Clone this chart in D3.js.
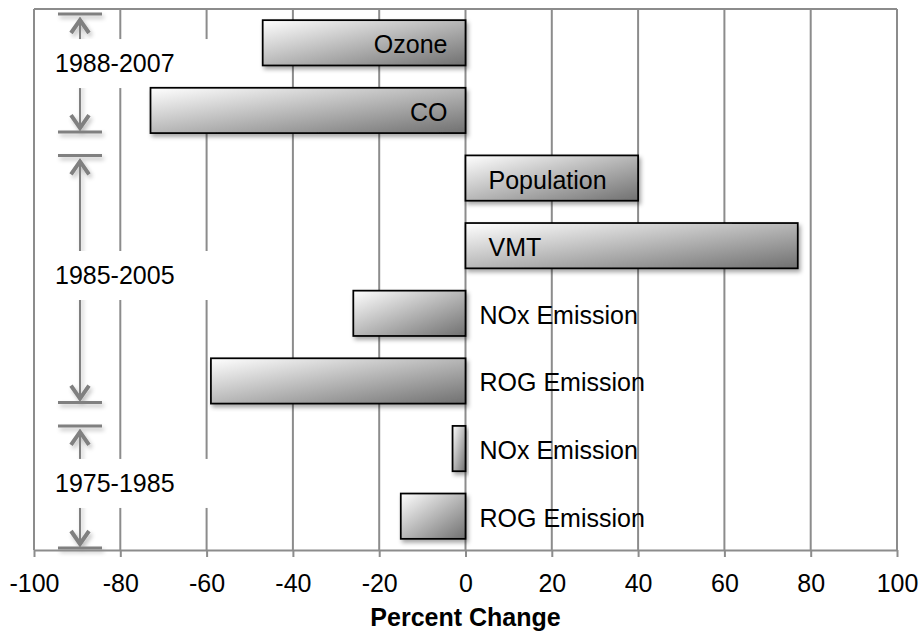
<!DOCTYPE html>
<html>
<head>
<meta charset="utf-8">
<script src="https://cdn.jsdelivr.net/npm/d3@7"></script>
<style>
  body { margin: 0; background: #fff; }
  text { font-family: Arial, "Liberation Sans", sans-serif; }
</style>
</head>
<body>
<svg id="chart"></svg>
<script>
// bar names, values and which period each bar belongs to
var categories = ["Ozone", "CO", "Population", "VMT", "NOx Emission", "ROG Emission", "NOx Emission", "ROG Emission"];
var values = [-47, -73, 40, 77, -26, -59, -3, -15];
var periodOf = [0, 0, 1, 1, 1, 1, 2, 2];
var periods = ["1988-2007", "1985-2005", "1975-1985"];
var xTicks = [-100, -80, -60, -40, -20, 0, 20, 40, 60, 80, 100];

var width = 919, height = 633;
var margin = {left: 34, right: 22, top: 9, bottom: 83};
var gridColor = "#8c8c8c";
var fontSize = 25;

var svg = d3.select("#chart")
    .attr("width", width)
    .attr("height", height);

var x = d3.scaleLinear()
    .domain([-100, 100])
    .range([margin.left, width - margin.right]);

var y = d3.scaleBand()
    .domain(d3.range(values.length))
    .range([margin.top, height - margin.bottom])
    .paddingInner(0.33)
    .paddingOuter(0.165);

var defs = svg.append("defs");

// diagonal white -> grey fill used on every bar
var grad = defs.append("linearGradient")
    .attr("id", "barfill")
    .attr("x1", 0).attr("y1", 0)
    .attr("x2", 1).attr("y2", 1);
grad.append("stop").attr("offset", 0).attr("stop-color", "#ffffff");
grad.append("stop").attr("offset", 1).attr("stop-color", "#707070");

// soft drop shadow
function shadow(id, opacity) {
    var f = defs.append("filter").attr("id", id)
        .attr("x", "-20%").attr("y", "-20%")
        .attr("width", "140%").attr("height", "160%");
    f.append("feGaussianBlur").attr("in", "SourceAlpha").attr("stdDeviation", 2);
    f.append("feOffset").attr("dx", 2).attr("dy", 3).attr("result", "off");
    f.append("feFlood").attr("flood-color", "#000").attr("flood-opacity", opacity);
    f.append("feComposite").attr("in2", "off").attr("operator", "in");
    var m = f.append("feMerge");
    m.append("feMergeNode");
    m.append("feMergeNode").attr("in", "SourceGraphic");
}
shadow("shadow", 0.35);
shadow("shadowlight", 0.25);

var plotTop = y.range()[0], plotBottom = y.range()[1];

// vertical grid lines (the outer ones act as the frame)
svg.append("g")
    .selectAll("line")
    .data(xTicks)
    .join("line")
        .attr("x1", d => x(d)).attr("x2", d => x(d))
        .attr("y1", plotTop).attr("y2", plotBottom)
        .attr("stroke", gridColor)
        .attr("stroke-width", 2);

svg.append("line")
    .attr("x1", x(-100)).attr("x2", x(100))
    .attr("y1", plotTop).attr("y2", plotTop)
    .attr("stroke", gridColor)
    .attr("stroke-width", 2);

// period brackets on the left, spanning the bars of each period
var groups = periods.map(function(p, g) {
    var idx = d3.range(values.length).filter(i => periodOf[i] == g);
    var i0 = d3.min(idx), i1 = d3.max(idx);
    var top = i0 == 0 ? plotTop + 5 : y(i0);
    var bottom = i1 == values.length - 1 ? plotBottom - 2 : y(i1) + y.bandwidth() - 1;
    return {label: p, top: top, bottom: bottom};
});

var ax = x(-100) + 46;
var brackets = svg.append("g")
    .attr("fill", "none")
    .attr("stroke", "#808080")
    .attr("filter", "url(#shadowlight)");

groups.forEach(function(g) {
    brackets.append("line")
        .attr("x1", ax).attr("x2", ax)
        .attr("y1", g.top + 4).attr("y2", g.bottom - 4)
        .attr("stroke-width", 2);
    [g.top, g.bottom].forEach(function(yy) {
        brackets.append("line")
            .attr("x1", ax - 22).attr("x2", ax + 22)
            .attr("y1", yy).attr("y2", yy)
            .attr("stroke-width", 3);
    });
    brackets.append("polyline")
        .attr("points", [[ax - 9, g.top + 19], [ax, g.top + 6], [ax + 9, g.top + 19]].join(" "))
        .attr("stroke-width", 4);
    brackets.append("polyline")
        .attr("points", [[ax - 9, g.bottom - 17], [ax, g.bottom - 4], [ax + 9, g.bottom - 17]].join(" "))
        .attr("stroke-width", 4);
});

var periodLabels = svg.append("g")
    .selectAll("g")
    .data(groups)
    .join("g")
        .attr("transform", (d, i) => "translate(0," + ((d.top + d.bottom) / 2 - (i == 0 ? 10 : 4)) + ")");

periodLabels.append("rect")
    .attr("x", ax - 30)
    .attr("y", -24)
    .attr("width", 165)
    .attr("height", 49)
    .attr("fill", "#fff");

periodLabels.append("text")
    .attr("x", ax - 25)
    .attr("dy", "0.36em")
    .attr("font-size", fontSize)
    .text(d => d.label);

// bars
svg.append("g")
    .selectAll("rect")
    .data(values)
    .join("rect")
        .attr("x", d => x(Math.min(0, d)))
        .attr("y", (d, i) => y(i))
        .attr("width", d => Math.abs(x(d) - x(0)))
        .attr("height", y.bandwidth())
        .attr("fill", "url(#barfill)")
        .attr("stroke", "#000")
        .attr("stroke-width", 1.75)
        .attr("filter", "url(#shadow)");

// bar labels: the 1988-2007 ones sit inside the bar end, the rest right of zero
svg.append("g")
    .selectAll("text")
    .data(values)
    .join("text")
        .attr("x", (d, i) => periodOf[i] == 0 ? x(0) - 18 : (d > 0 ? x(0) + 23 : x(0) + 14))
        .attr("y", (d, i) => y(i) + y.bandwidth() / 2)
        .attr("dy", "0.42em")
        .attr("text-anchor", (d, i) => periodOf[i] == 0 ? "end" : "start")
        .attr("font-size", fontSize)
        .text((d, i) => categories[i]);

// x axis, plain hyphen for negatives like the original
var axis = svg.append("g")
    .attr("transform", "translate(0," + plotBottom + ")")
    .call(d3.axisBottom(x)
        .tickValues(xTicks)
        .tickFormat(d => String(d))
        .tickSize(7)
        .tickSizeOuter(0)
        .tickPadding(17));
axis.select(".domain").attr("stroke", gridColor).attr("stroke-width", 2);
axis.selectAll(".tick line").attr("stroke", gridColor).attr("stroke-width", 2);
axis.selectAll(".tick text")
    .attr("font-size", fontSize)
    .attr("font-family", "Arial, 'Liberation Sans', sans-serif")
    .attr("fill", "#000");

svg.append("text")
    .attr("x", (x(-100) + x(100)) / 2)
    .attr("y", 626)
    .attr("text-anchor", "middle")
    .attr("font-size", fontSize)
    .attr("font-weight", "bold")
    .text("Percent Change");
</script>
</body>
</html>
